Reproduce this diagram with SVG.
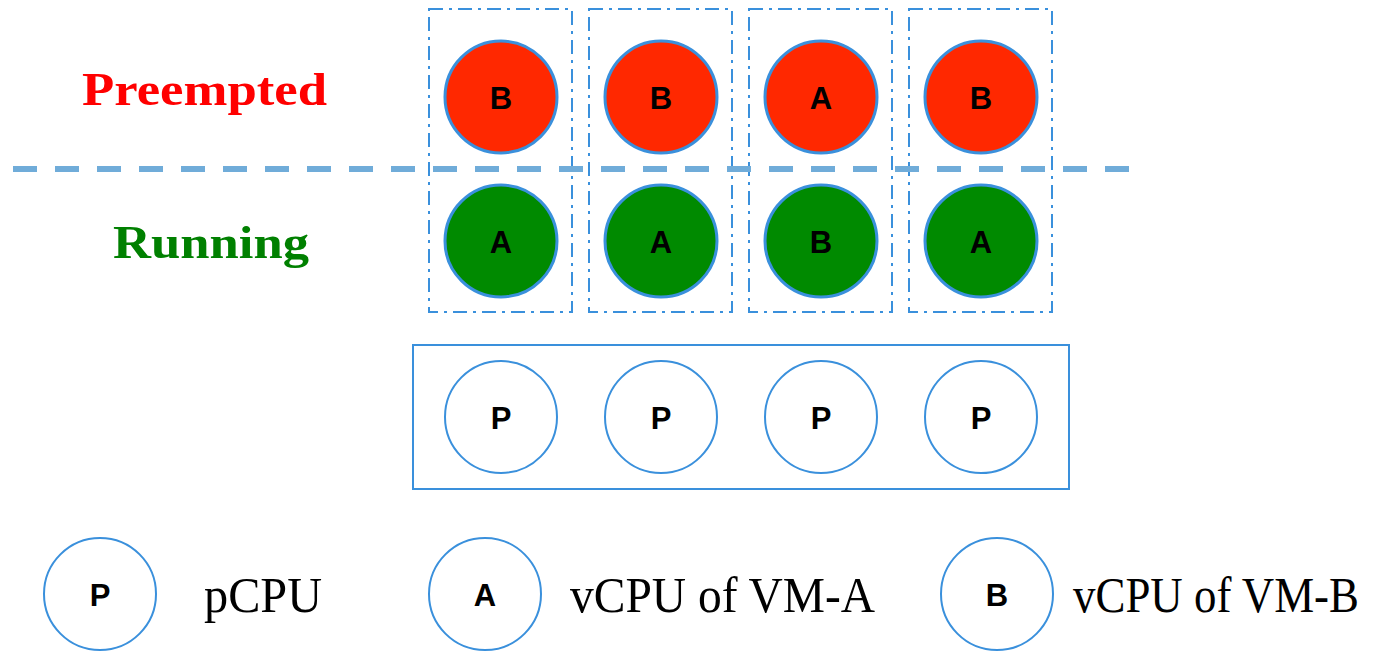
<svg xmlns="http://www.w3.org/2000/svg" width="1373" height="653" viewBox="0 0 1373 653">
  <style>
    .slot { fill: none; stroke: #3a90dc; stroke-width: 2; stroke-dasharray: 14 6 3 6; }
    .cpu { stroke: #3a90dc; stroke-width: 3; }
    .pre { fill: #ff2800; }
    .run { fill: #008a00; }
    .phys { fill: #ffffff; stroke-width: 2; }
    .lbl { font-family: "Liberation Sans", Arial, sans-serif; font-weight: bold; font-size: 31px; text-anchor: middle; fill: #000; }
    .state { font-family: "Liberation Serif", "Times New Roman", serif; font-weight: bold; font-size: 46px; }
    .desc { font-family: "Liberation Serif", "Times New Roman", serif; font-size: 50px; fill: #000; }
  </style>

  <!-- state labels -->
  <text class="state" x="82" y="105" fill="#ff0000" textLength="245" lengthAdjust="spacingAndGlyphs">Preempted</text>
  <text class="state" x="113" y="258" fill="#008000" textLength="196" lengthAdjust="spacingAndGlyphs">Running</text>

  <!-- dash-dot slot frames, one per pCPU -->
  <g id="slots">
    <rect class="slot" x="429" y="9" width="143" height="303"/>
    <rect class="slot" x="589" y="9" width="143" height="303"/>
    <rect class="slot" x="749" y="9" width="143" height="303"/>
    <rect class="slot" x="909" y="9" width="143" height="303"/>
  </g>

  <!-- preempted / running divider -->
  <line x1="13" y1="169" x2="1130" y2="169" stroke="#70acd9" stroke-width="6" stroke-dasharray="24 18"/>

  <!-- preempted vCPUs -->
  <g id="pre1"><circle class="cpu pre" cx="501" cy="97" r="56"/><text class="lbl" x="501" y="109">B</text></g>
  <g id="pre2"><circle class="cpu pre" cx="661" cy="97" r="56"/><text class="lbl" x="661" y="109">B</text></g>
  <g id="pre3"><circle class="cpu pre" cx="821" cy="97" r="56"/><text class="lbl" x="821" y="109">A</text></g>
  <g id="pre4"><circle class="cpu pre" cx="981" cy="97" r="56"/><text class="lbl" x="981" y="109">B</text></g>

  <!-- running vCPUs -->
  <g id="run1"><circle class="cpu run" cx="501" cy="241" r="56"/><text class="lbl" x="501" y="253">A</text></g>
  <g id="run2"><circle class="cpu run" cx="661" cy="241" r="56"/><text class="lbl" x="661" y="253">A</text></g>
  <g id="run3"><circle class="cpu run" cx="821" cy="241" r="56"/><text class="lbl" x="821" y="253">B</text></g>
  <g id="run4"><circle class="cpu run" cx="981" cy="241" r="56"/><text class="lbl" x="981" y="253">A</text></g>

  <!-- physical CPUs -->
  <g id="host">
    <rect x="413" y="345" width="656" height="144" fill="none" stroke="#3a90dc" stroke-width="2"/>
  </g>
  <g id="p1"><circle class="cpu phys" cx="501" cy="417" r="56"/><text class="lbl" x="501" y="429">P</text></g>
  <g id="p2"><circle class="cpu phys" cx="661" cy="417" r="56"/><text class="lbl" x="661" y="429">P</text></g>
  <g id="p3"><circle class="cpu phys" cx="821" cy="417" r="56"/><text class="lbl" x="821" y="429">P</text></g>
  <g id="p4"><circle class="cpu phys" cx="981" cy="417" r="56"/><text class="lbl" x="981" y="429">P</text></g>

  <!-- legend -->
  <g id="legend-p"><circle class="cpu phys" cx="100" cy="594" r="56"/><text class="lbl" x="100" y="606">P</text></g>
  <text class="desc" x="204" y="612" textLength="118" lengthAdjust="spacingAndGlyphs">pCPU</text>
  <g id="legend-a"><circle class="cpu phys" cx="485" cy="594" r="56"/><text class="lbl" x="485" y="606">A</text></g>
  <text class="desc" x="570" y="612" textLength="305" lengthAdjust="spacingAndGlyphs">vCPU of  VM-A</text>
  <g id="legend-b"><circle class="cpu phys" cx="997" cy="594" r="56"/><text class="lbl" x="997" y="606">B</text></g>
  <text class="desc" x="1073" y="612" textLength="286" lengthAdjust="spacingAndGlyphs">vCPU of VM-B</text>
</svg>
